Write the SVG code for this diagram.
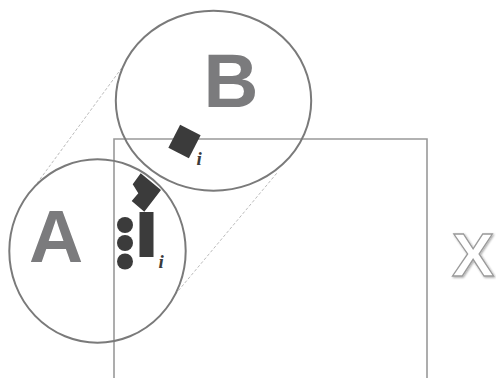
<svg xmlns="http://www.w3.org/2000/svg" width="496" height="378" viewBox="0 0 496 378">
<style>
.ring{fill:none;stroke:#7a7a7a;stroke-width:2}
.frame{fill:none;stroke:#999;stroke-width:1.6}
.tan{stroke:#aaa;stroke-width:0.8;stroke-dasharray:3 2;fill:none}
.big{font-family:"Liberation Sans",Arial,sans-serif;font-weight:bold;fill:#7b7b7d;text-anchor:middle}
.sub{font-family:"Liberation Serif","Times New Roman",serif;font-style:italic;font-weight:bold;font-size:19px;fill:#3a3a3a}
.solid{fill:#3b3b3b}
</style>
<defs>
<filter id="sh" x="-20%" y="-20%" width="140%" height="140%">
<feGaussianBlur in="SourceAlpha" stdDeviation="1"/>
<feOffset dx="0.5" dy="0.5"/>
<feComponentTransfer><feFuncA type="linear" slope="0.35"/></feComponentTransfer>
<feMerge><feMergeNode/><feMergeNode in="SourceGraphic"/></feMerge>
</filter>
</defs>
<g id="frame"><path class="frame" d="M114,380 V139 H427 V380"/></g>
<g id="connectors">
<line class="tan" x1="121.7" y1="68" x2="33.3" y2="188.3"/>
<line class="tan" x1="276.7" y1="173.3" x2="173.3" y2="296.7"/>
</g>
<g id="nodeB">
<ellipse class="ring" cx="213.5" cy="100.7" rx="97.7" ry="90"/>
<text class="big" x="231" y="106.7" font-size="76">B</text>
<rect class="solid" x="-11.5" y="-13" width="23" height="26" transform="translate(184.5,141.5) rotate(27)"/>
<text class="sub" x="196.5" y="165">i</text>
</g>
<g id="nodeA">
<ellipse class="ring" cx="97.5" cy="251" rx="88.2" ry="91.7"/>
<text class="big" x="56" y="262" font-size="75">A</text>
<polygon class="solid" points="140.7,173.3 161,190 144.3,211.7 131.7,201 138.3,193.3 132.7,184.3"/>
<rect class="solid" x="139.5" y="212" width="14" height="45"/>
<circle class="solid" cx="125" cy="225" r="8"/>
<circle class="solid" cx="125" cy="243" r="8"/>
<circle class="solid" cx="125" cy="261.5" r="8"/>
<text class="sub" x="158.5" y="267.5">i</text>
</g>
<g id="labelX">
<text x="0" y="0" transform="translate(452,276) scale(1.02,1)" font-family="Liberation Sans,Arial,sans-serif" font-weight="bold" font-size="62" fill="#fff" stroke="#9a9a9a" stroke-width="1.3" filter="url(#sh)">X</text>
</g>
</svg>
